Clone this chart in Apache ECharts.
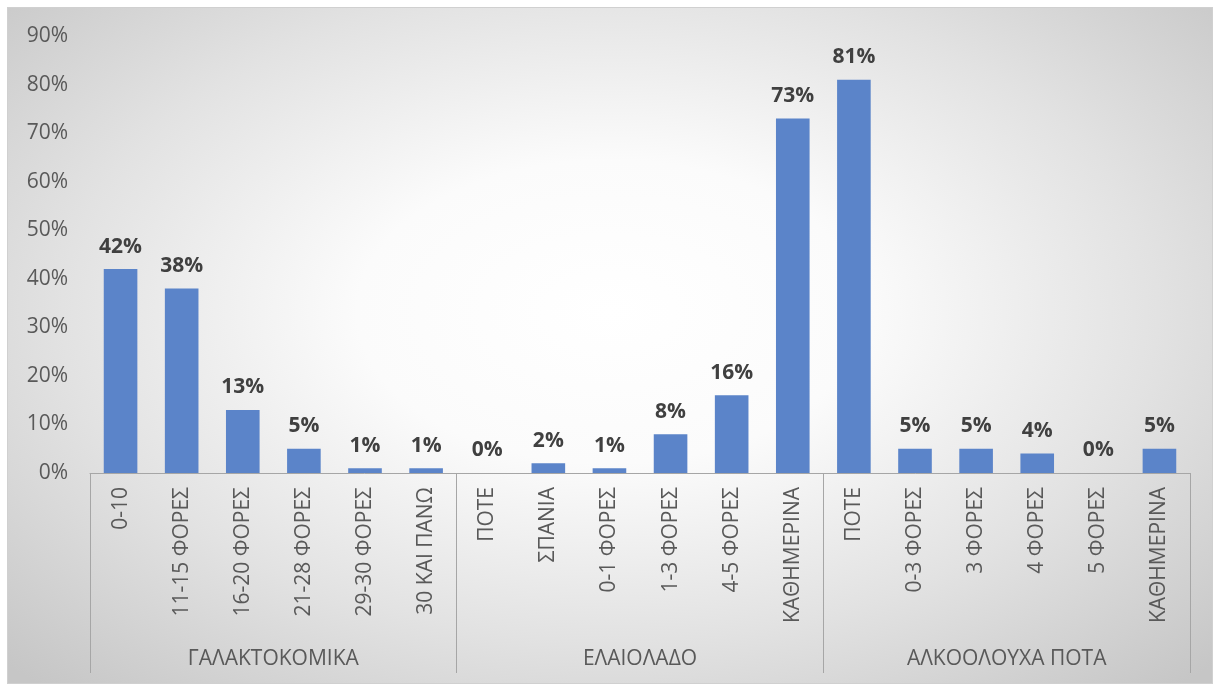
<!DOCTYPE html>
<html>
<head>
<meta charset="utf-8">
<script src="https://cdn.jsdelivr.net/npm/echarts@6/dist/echarts.min.js"></script>
<style>
  html, body { margin: 0; padding: 0; background: #ffffff; }
  #bg {
    position: absolute; left: 7px; top: 7px; width: 1204px; height: 675px;
    border: 1px solid #d0d0d0;
    background: radial-gradient(ellipse 70% 75% at 50% 45%, #ffffff 0%, #fbfbfb 30%, #e2e2e2 65%, #c6c6c6 100%);
  }
  #chart { position: absolute; left: 0; top: 0; width: 1219px; height: 684px; }
</style>
</head>
<body>
<div id="bg"></div>
<div id="chart"></div>
<script>
// Frequency answers, grouped by food / drink type
const categories = [
  '0-10', '11-15 ΦΟΡΕΣ', '16-20 ΦΟΡΕΣ', '21-28 ΦΟΡΕΣ', '29-30 ΦΟΡΕΣ', '30 ΚΑΙ ΠΑΝΩ',
  'ΠΟΤΕ', 'ΣΠΑΝΙΑ', '0-1 ΦΟΡΕΣ', '1-3 ΦΟΡΕΣ', '4-5 ΦΟΡΕΣ', 'ΚΑΘΗΜΕΡΙΝΑ',
  'ΠΟΤΕ', '0-3 ΦΟΡΕΣ', '3 ΦΟΡΕΣ', '4 ΦΟΡΕΣ', '5 ΦΟΡΕΣ', 'ΚΑΘΗΜΕΡΙΝΑ'
];
const groups = ['ΓΑΛΑΚΤΟΚΟΜΙΚΑ', 'ΕΛΑΙΟΛΑΔΟ', 'ΑΛΚΟΟΛΟΥΧΑ ΠΟΤΑ'];
const values = [42, 38, 13, 5, 1, 1, 0, 2, 1, 8, 16, 73, 81, 5, 5, 4, 0, 5];
const yTicks = { min: 0, max: 90, step: 10 };

const FONT = '"Open Sans", "Noto Sans", sans-serif';
const chart = echarts.init(document.getElementById('chart'));
chart.setOption({
  animation: false,
  grid: { left: 90, right: 29, top: 36, bottom: 211, containLabel: false },
  xAxis: [
    {
      type: 'category',
      data: categories,
      axisLine: { show: true, lineStyle: { color: '#a6a6a6', width: 1 } },
      axisTick: { show: false },
      axisLabel: {
        interval: 0, rotate: 90, margin: 14,
        color: '#595959', fontSize: 21, fontFamily: FONT
      }
    },
    {
      type: 'category',
      data: groups,
      position: 'bottom',
      offset: 200,
      axisLine: { show: false },
      axisTick: { show: true, inside: true, length: 200, lineStyle: { color: '#a6a6a6', width: 1 } },
      axisLabel: {
        inside: true, margin: 3,
        color: '#595959', fontSize: 21, fontFamily: FONT
      }
    }
  ],
  yAxis: {
    type: 'value',
    min: yTicks.min, max: yTicks.max, interval: yTicks.step,
    axisLine: { show: false },
    axisTick: { show: false },
    splitLine: { show: false },
    axisLabel: {
      formatter: '{value}%', margin: 22,
      color: '#595959', fontSize: 21, fontFamily: FONT
    }
  },
  series: [{
    type: 'bar',
    xAxisIndex: 0,
    data: values,
    barCategoryGap: '45%',
    itemStyle: { color: '#5b84c9' },
    label: {
      show: true, position: 'top', distance: 12,
      formatter: '{c}%',
      color: '#404040', fontSize: 21, fontWeight: 'bold', fontFamily: FONT
    }
  }]
});
</script>
</body>
</html>
